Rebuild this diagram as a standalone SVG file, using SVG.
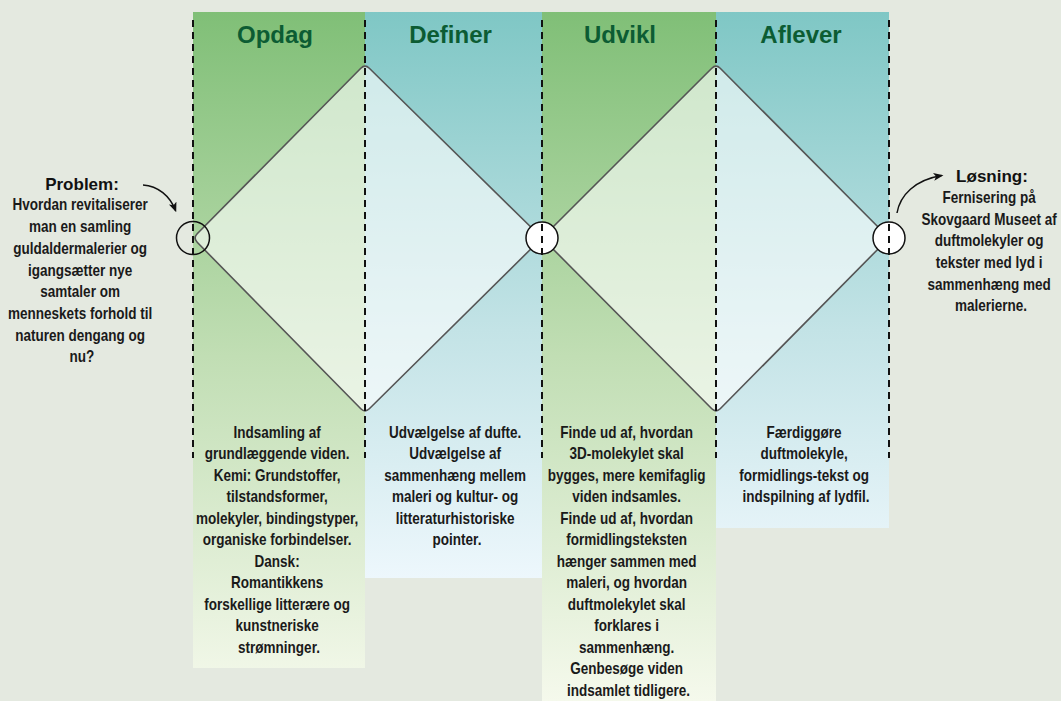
<svg xmlns="http://www.w3.org/2000/svg" width="1061" height="701" viewBox="0 0 1061 701">
  <defs>
    <linearGradient id="gradGreen" gradientUnits="userSpaceOnUse" x1="0" y1="12" x2="0" y2="701">
      <stop offset="0" stop-color="#80bf77"/>
      <stop offset="0.5" stop-color="#c1deb4"/>
      <stop offset="1" stop-color="#f5f9ec"/>
    </linearGradient>
    <linearGradient id="gradTeal" gradientUnits="userSpaceOnUse" x1="0" y1="12" x2="0" y2="590">
      <stop offset="0" stop-color="#7fc7c5"/>
      <stop offset="0.55" stop-color="#c3e3e6"/>
      <stop offset="1" stop-color="#eff8fd"/>
    </linearGradient>
    <marker id="arrowHead" viewBox="0 0 10 10" refX="8" refY="5" markerWidth="10" markerHeight="10" markerUnits="userSpaceOnUse" orient="auto">
      <path d="M0,1 L10,5 L0,9 L2.5,5 Z" fill="#111"/>
    </marker>
    <style>
      .phase-title { font-family: "Liberation Sans", Arial, sans-serif; font-weight: bold; font-size: 24px; fill: #0c5c33; text-anchor: middle; }
      .body { font-family: "Liberation Sans", Arial, sans-serif; font-weight: bold; font-size: 16px; fill: #1a1a1a; text-anchor: middle; }
      .lead { font-family: "Liberation Sans", Arial, sans-serif; font-weight: bold; font-size: 17px; fill: #111; text-anchor: middle; }
      .diamond { fill: #ffffff; fill-opacity: 0.6; stroke: #555; stroke-width: 1.6; }
      .phase-border { stroke: #111; stroke-width: 2; stroke-dasharray: 7 5; fill: none; }
      .node-ring { stroke: #111; stroke-width: 1.5; }
      .flow-arrow { fill: none; stroke: #111; stroke-width: 1.5; }
    </style>
  </defs>

  <!-- page background -->
  <rect x="0" y="0" width="1061" height="701" fill="#e4e9e0"/>

  <!-- phase columns -->
  <g id="phase-opdag">
    <rect x="193" y="12" width="172" height="656" fill="url(#gradGreen)"/>
    <text class="phase-title" x="275" y="43">Opdag</text>
  </g>
  <g id="phase-definer">
    <rect x="365" y="12" width="177" height="566" fill="url(#gradTeal)"/>
    <text class="phase-title" x="450.5" y="43">Definer</text>
  </g>
  <g id="phase-udvikl">
    <rect x="542" y="12" width="174" height="689" fill="url(#gradGreen)"/>
    <text class="phase-title" x="620" y="43">Udvikl</text>
  </g>
  <g id="phase-aflever">
    <rect x="716" y="12" width="173" height="516" fill="url(#gradTeal)"/>
    <text class="phase-title" x="801" y="43">Aflever</text>
  </g>

  <!-- double diamond -->
  <g id="diamond-problem">
    <path class="diamond" d="M197.2,233.7 L360.8,68.3 Q365,64 369.3,68.2 L537.7,233.8 Q542,238 537.7,242.2 L369.3,408.8 Q365,413 360.8,408.7 L197.2,242.3 Q193,238 197.2,233.7 Z"/>
  </g>
  <g id="diamond-solution">
    <path class="diamond" d="M546.2,233.8 L711.8,68.2 Q716,64 720.2,68.2 L884.8,233.8 Q889,238 884.8,242.2 L720.2,408.8 Q716,413 711.8,408.8 L546.2,242.2 Q542,238 546.2,233.8 Z"/>
  </g>

  <!-- milestone rings -->
  <g id="ring-start"><circle class="node-ring" cx="193" cy="238" r="16.5" fill="none"/></g>
  <g id="ring-middle"><circle class="node-ring" cx="542" cy="238" r="16" fill="#ffffff"/></g>
  <g id="ring-end"><circle class="node-ring" cx="889" cy="238" r="16" fill="#ffffff"/></g>

  <!-- phase boundaries -->
  <g id="phase-borders">
    <line class="phase-border" x1="193" y1="20" x2="193" y2="458"/>
    <line class="phase-border" x1="365" y1="20" x2="365" y2="458"/>
    <line class="phase-border" x1="542" y1="20" x2="542" y2="458"/>
    <line class="phase-border" x1="716" y1="20" x2="716" y2="458"/>
    <line class="phase-border" x1="889" y1="20" x2="889" y2="458"/>
  </g>

  <!-- connectors -->
  <g id="connectors">
    <path class="flow-arrow" d="M143,185 C158,186 170,196 175.5,210.5" marker-end="url(#arrowHead)"/>
    <path class="flow-arrow" d="M897,213 C900,195 915,180 941.5,175.5" marker-end="url(#arrowHead)"/>
  </g>

  <!-- problem statement (body text condensed horizontally) -->
  <g id="problem">
    <text class="lead" x="82" y="190">Problem:</text>
    <g transform="translate(82,0) scale(0.845,1)">
      <text class="body" x="0" y="210.5">
        <tspan x="0">Hvordan revitaliserer</tspan>
        <tspan x="0" dy="21.7">man en samling</tspan>
        <tspan x="0" dy="21.7">guldaldermalerier og</tspan>
        <tspan x="0" dy="21.7">igangsætter nye</tspan>
        <tspan x="0" dy="21.7">samtaler om</tspan>
        <tspan x="0" dy="21.7">menneskets forhold til</tspan>
        <tspan x="0" dy="21.7">naturen dengang og</tspan>
        <tspan x="0" dy="21.7">nu?</tspan>
      </text>
    </g>
  </g>

  <!-- solution statement -->
  <g id="solution">
    <text class="lead" x="992" y="182">Løsning:</text>
    <g transform="translate(991,0) scale(0.845,1)">
      <text class="body" x="0" y="203">
        <tspan x="0">Fernisering på</tspan>
        <tspan x="0" dy="21.7">Skovgaard Museet af</tspan>
        <tspan x="0" dy="21.7">duftmolekyler og</tspan>
        <tspan x="0" dy="21.7">tekster med lyd i</tspan>
        <tspan x="0" dy="21.7">sammenhæng med</tspan>
        <tspan x="0" dy="21.7">malerierne.</tspan>
      </text>
    </g>
  </g>

  <!-- phase descriptions -->
  <g id="desc-opdag" transform="translate(279,0) scale(0.845,1)">
    <text class="body" x="0" y="438">
      <tspan x="0">Indsamling af</tspan>
      <tspan x="0" dy="21.5">grundlæggende viden.</tspan>
      <tspan x="0" dy="21.5">Kemi: Grundstoffer,</tspan>
      <tspan x="0" dy="21.5">tilstandsformer,</tspan>
      <tspan x="0" dy="21.5">molekyler, bindingstyper,</tspan>
      <tspan x="0" dy="21.5">organiske forbindelser.</tspan>
      <tspan x="0" dy="21.5">Dansk:</tspan>
      <tspan x="0" dy="21.5">Romantikkens</tspan>
      <tspan x="0" dy="21.5">forskellige litterære og</tspan>
      <tspan x="0" dy="21.5">kunstneriske</tspan>
      <tspan x="0" dy="21.5">strømninger.</tspan>
    </text>
  </g>
  <g id="desc-definer" transform="translate(457,0) scale(0.845,1)">
    <text class="body" x="0" y="438">
      <tspan x="0">Udvælgelse af dufte.</tspan>
      <tspan x="0" dy="21.5">Udvælgelse af</tspan>
      <tspan x="0" dy="21.5">sammenhæng mellem</tspan>
      <tspan x="0" dy="21.5">maleri og kultur- og</tspan>
      <tspan x="0" dy="21.5">litteraturhistoriske</tspan>
      <tspan x="0" dy="21.5">pointer.</tspan>
    </text>
  </g>
  <g id="desc-udvikl" transform="translate(628.5,0) scale(0.845,1)">
    <text class="body" x="0" y="438">
      <tspan x="0">Finde ud af, hvordan</tspan>
      <tspan x="0" dy="21.5">3D-molekylet skal</tspan>
      <tspan x="0" dy="21.5">bygges, mere kemifaglig</tspan>
      <tspan x="0" dy="21.5">viden indsamles.</tspan>
      <tspan x="0" dy="21.5">Finde ud af, hvordan</tspan>
      <tspan x="0" dy="21.5">formidlingsteksten</tspan>
      <tspan x="0" dy="21.5">hænger sammen med</tspan>
      <tspan x="0" dy="21.5">maleri, og hvordan</tspan>
      <tspan x="0" dy="21.5">duftmolekylet skal</tspan>
      <tspan x="0" dy="21.5">forklares i</tspan>
      <tspan x="0" dy="21.5">sammenhæng.</tspan>
      <tspan x="0" dy="21.5">Genbesøge viden</tspan>
      <tspan x="0" dy="21.5">indsamlet tidligere.</tspan>
    </text>
  </g>
  <g id="desc-aflever" transform="translate(806,0) scale(0.845,1)">
    <text class="body" x="0" y="438">
      <tspan x="0">Færdiggøre</tspan>
      <tspan x="0" dy="21.5">duftmolekyle,</tspan>
      <tspan x="0" dy="21.5">formidlings-tekst og</tspan>
      <tspan x="0" dy="21.5">indspilning af lydfil.</tspan>
    </text>
  </g>
</svg>
